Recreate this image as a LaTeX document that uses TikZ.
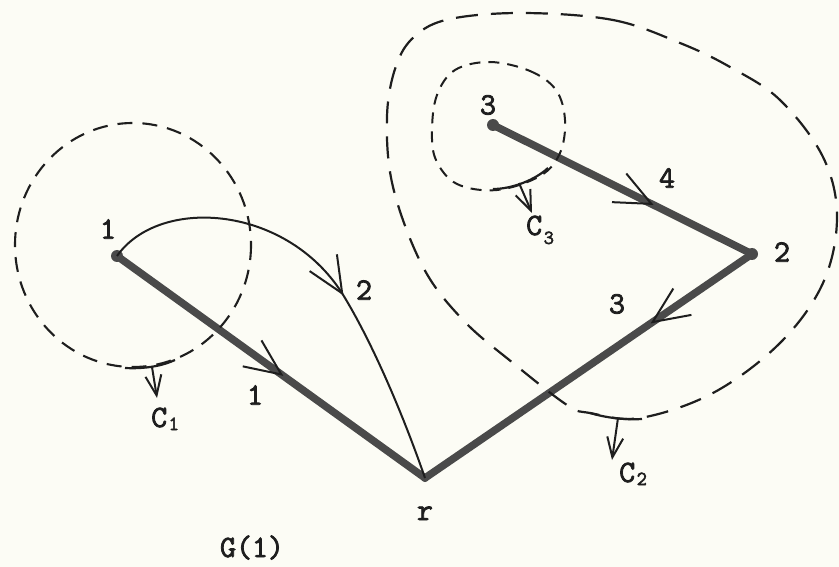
\documentclass[tikz,border=0pt]{standalone}
\usepackage{fontspec}
\setmonofont{Latin Modern Mono}[FakeBold=2.5]
\usetikzlibrary{arrows.meta,decorations.markings}
\definecolor{paper}{HTML}{FCFCF5}
\definecolor{ink}{HTML}{1E1E1E}
\definecolor{edgegray}{HTML}{4A4A4A}
\newcommand\Csub[2]{C\kern1.5pt\raisebox{-#1}{\fontsize{20}{20}\selectfont #2}}
\begin{document}
\begin{tikzpicture}[x=1pt,y=-1pt,
  font=\ttfamily\fontsize{31}{34}\selectfont,
  lab/.style={inner sep=0pt, text=ink},
  vdot/.style={circle, fill=edgegray, inner sep=0pt, minimum size=12pt},
  treeedge/.style={line width=7.5pt, draw=edgegray, line cap=round},
  arcline/.style={line width=2pt, draw=ink},
  bigbarb/.tip={Straight Barb[length=36pt,width=32pt,line width=2pt,color=ink]},
  smallbarb/.tip={Straight Barb[length=20pt,width=16pt,line width=2pt,color=ink]},
  midarrow/.style={postaction={decorate}, decoration={markings, mark=at position #1 with {\arrow{bigbarb}}}},
  cutline/.style={line width=2.2pt, draw=ink},
  cutarrow/.style={line width=2pt, draw=ink, -{smallbarb}},
  loopa/.style={line width=2.1pt, draw=ink, dash pattern=on 15pt off 10pt},
  loopb/.style={line width=2.2pt, draw=ink, dash pattern=on 22pt off 13pt},
  loopc/.style={line width=2pt, draw=ink, dash pattern=on 11pt off 8pt}]
\fill[paper] (0,0) rectangle (839,567);
\useasboundingbox (0,0) rectangle (839,567);

% vertices
\node[vdot] (v1) at (117,256) {};
\node[vdot] (v2) at (752,254) {};
\node[vdot] (v3) at (493,125) {};
\node[vdot,minimum size=8pt] (vr) at (425,478) {};

% tree edges
\draw[treeedge, midarrow=0.54] (v1.center) -- (vr.center);
\draw[treeedge, midarrow=0.62] (v3.center) -- (v2.center);
\draw[treeedge, midarrow=0.31] (v2.center) -- (vr.center);

% non-tree edge
\draw[arcline, midarrow=0.57] (v1.center) .. controls (160,195) and (290,205) .. (345,298)
   .. controls (375,348) and (405,420) .. (vr.center);

% cut C1
\draw[loopa] (133,245) ellipse [x radius=118, y radius=122];
\coordinate (c1a) at (125,368);
\coordinate (c1b) at (175,360);
\coordinate (c1s) at (152,367);
\coordinate (c1e) at (157,398);
\draw[cutline] (c1a) .. controls (145,369) and (162,366) .. (c1b);
\draw[cutarrow] (c1s) -- (c1e);

% cut C3
\draw[loopc] plot[smooth cycle, tension=0.6] coordinates {(490,62) (530,71) (556,90) (565,120) (560,153) (540,176) (497,190) (457,184) (436,160) (432,130) (437,95) (455,70)};
\coordinate (c3a) at (493,189);
\coordinate (c3b) at (548,168);
\coordinate (c3s) at (519,183);
\coordinate (c3e) at (532,213);
\draw[cutline] (c3a) .. controls (512,189) and (535,180) .. (c3b);
\draw[cutarrow] (c3s) -- (c3e);

% cut C2
\draw[loopb] plot[smooth cycle, tension=0.6] coordinates {(523,13) (613,20) (680,43) (730,67) (780,100) (823,157) (837,217) (823,283) (780,343) (713,393) (640,418) (590,413) (567,405) (513,363) (463,320) (423,267) (393,187) (387,117) (396,66) (415,36) (450,19)};
\coordinate (c2a) at (590,413);
\coordinate (c2b) at (642,419);
\coordinate (c2s) at (618,418);
\coordinate (c2e) at (612,460);
\draw[cutline] (c2a) .. controls (607,418) and (625,420) .. (c2b);
\draw[cutarrow] (c2s) -- (c2e);

% labels
\node[lab] (l1) at (108,229) {1};
\node[lab] (l3) at (488,105) {3};
\node[lab] (l2) at (782,252) {2};
\node[lab,anchor=base] (lr) at (425,520) {r};
\node[lab,anchor=base] (lg) at (252,557) {G(1)};
\node[lab] (e1) at (255,395) {1};
\node[lab] (e2) at (364,290) {2};
\node[lab] (e4) at (667,178) {4};
\node[lab] (e3) at (617,304) {3};
\node[lab,anchor=base west] (lc1) at (151,427) {\Csub{3pt}{1}};
\node[lab,anchor=base west] (lc3) at (526,235) {\Csub{9pt}{3}};
\node[lab,anchor=base west] (lc2) at (619,482) {\Csub{3pt}{2}};
\end{tikzpicture}
\end{document}
